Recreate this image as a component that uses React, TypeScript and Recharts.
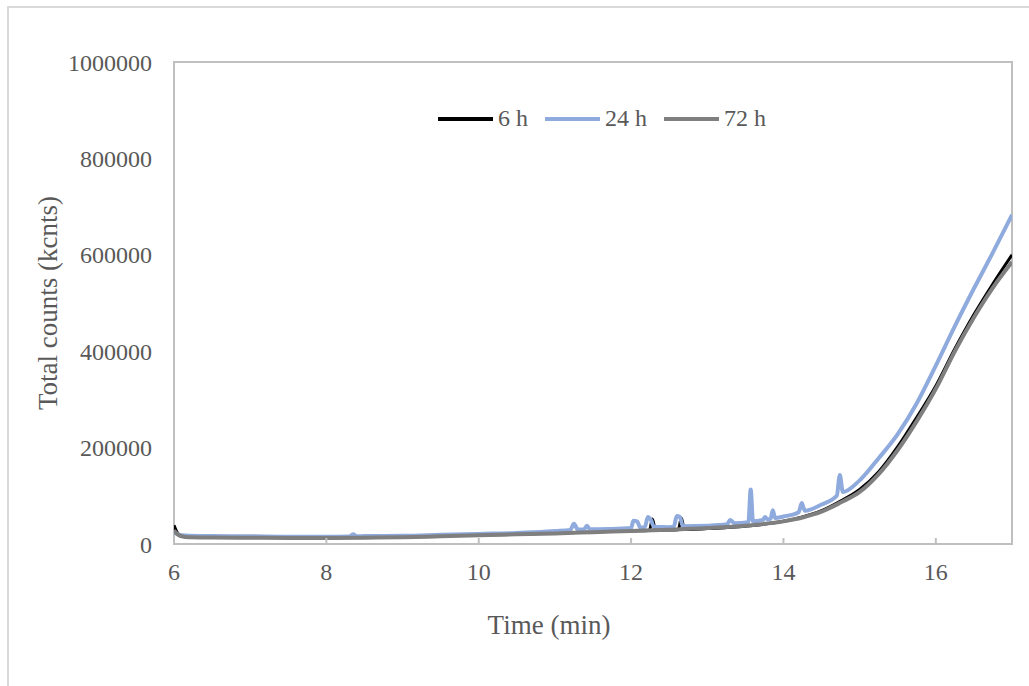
import React from 'react'
import { LineChart, Line, XAxis, YAxis, Legend, ReferenceArea, Label } from 'recharts'

// retention time (min) and total counts (kcnts) per sample
const seriesNames = ['6 h', '24 h', '72 h']

const t6h = [6.0, 6.05, 6.1, 6.2, 6.5, 7.0, 7.5, 8.0, 8.5, 9.0, 9.5, 10.0, 10.5, 11.0, 11.5, 12.0, 12.24, 12.28, 12.32, 12.5, 12.62, 12.66, 12.7, 13.0, 13.5, 14.0, 14.25, 14.5, 14.75, 15.0, 15.25, 15.5, 15.75, 16.0, 16.25, 16.5, 16.75, 17.0]
const v6h = [39000, 22000, 16000, 14500, 14000, 13500, 13500, 13000, 14000, 15000, 16500, 18500, 20000, 22500, 25000, 27000, 28000, 52000, 29000, 29000, 29500, 54000, 30000, 32000, 37000, 47000, 56000, 69000, 89000, 113000, 150000, 202000, 263000, 328000, 405000, 476000, 540000, 600000]

const t24h = [6.0, 6.05, 6.1, 6.2, 6.5, 7.0, 7.5, 8.0, 8.3, 8.35, 8.4, 8.5, 9.0, 9.5, 10.0, 10.5, 10.9, 11.0, 11.2, 11.25, 11.3, 11.38, 11.42, 11.46, 11.7, 12.0, 12.03, 12.08, 12.12, 12.18, 12.22, 12.26, 12.3, 12.5, 12.56, 12.6, 12.64, 12.68, 13.0, 13.26, 13.3, 13.36, 13.54, 13.57, 13.6, 13.73, 13.76, 13.79, 13.83, 13.86, 13.89, 14.0, 14.2, 14.24, 14.28, 14.5, 14.7, 14.74, 14.78, 15.0, 15.25, 15.5, 15.75, 16.0, 16.25, 16.5, 16.75, 17.0]
const v24h = [25000, 20000, 18000, 17000, 16500, 16000, 15000, 15000, 15500, 20000, 16000, 16500, 17000, 19000, 21000, 23000, 26000, 27000, 29000, 42000, 30000, 30000, 38000, 30500, 31000, 33000, 48000, 47000, 34000, 35000, 56000, 50000, 36000, 35000, 36000, 58000, 56000, 37000, 38000, 41000, 50000, 43000, 45000, 113000, 47000, 50000, 56000, 51000, 52000, 70000, 54000, 57000, 66000, 85000, 69000, 82000, 100000, 143000, 108000, 132000, 178000, 228000, 292000, 370000, 452000, 530000, 605000, 683000]

const t72h = [6.0, 6.05, 6.1, 6.2, 6.5, 7.0, 7.5, 8.0, 8.5, 9.0, 9.5, 10.0, 10.5, 11.0, 11.5, 12.0, 12.5, 13.0, 13.5, 14.0, 14.25, 14.5, 14.75, 15.0, 15.25, 15.5, 15.75, 16.0, 16.25, 16.5, 16.75, 17.0]
const v72h = [28000, 20000, 16000, 14000, 13500, 13000, 12500, 12500, 13000, 14000, 16000, 18000, 20000, 22000, 24500, 27000, 29500, 33000, 38000, 47000, 55000, 67000, 86000, 108000, 145000, 195000, 255000, 322000, 400000, 470000, 532000, 585000]

const xTicks = [6, 8, 10, 12, 14, 16]
const yTicks = [0, 200000, 400000, 600000, 800000, 1000000]

const zip = (ts: number[], vs: number[]) => ts.map((t, i) => ({ t, v: vs[i] }))

const FONT = '"Liberation Serif", "Times New Roman", serif'
const TEXT = '#595959'

function LegendContent({ payload }: any) {
  const items = [...(payload || [])].sort((a: any, b: any) => seriesNames.indexOf(a.value) - seriesNames.indexOf(b.value))
  return (
    <div style={{ display: 'flex', alignItems: 'center', fontFamily: FONT, fontSize: 24, color: TEXT }}>
      {items.map((p: any) => (
        <div key={p.value} style={{ display: 'flex', alignItems: 'center', marginRight: 17 }}>
          <div style={{ width: 55, height: 4, background: p.color, marginRight: 5 }} />
          <span>{p.value}</span>
        </div>
      ))}
    </div>
  )
}

export default function App() {
  return (
    <div style={{ position: 'absolute', left: 0, top: 0, width: 1029, height: 686, overflow: 'hidden', background: '#fff' }}>
      <div style={{ position: 'absolute', left: 7, top: 6, width: 1100, height: 800, border: '2px solid #d9d9d9' }} />
      <div style={{ position: 'absolute', left: 0, top: 0 }}>
        <LineChart width={1029} height={686} margin={{ top: 62, right: 17, left: 0, bottom: 82 }}>
          <XAxis
            type="number"
            dataKey="t"
            domain={[6, 17]}
            ticks={xTicks}
            allowDataOverflow
            height={60}
            axisLine={false}
            tickLine={{ stroke: '#bfbfbf', strokeWidth: 2 }}
            tickSize={-6}
            tickMargin={25}
            tick={{ fontSize: 24, fill: TEXT, fontFamily: FONT }}
          >
            <Label value="Time (min)" position="bottom" offset={11} dx={-44} style={{ fontSize: 27, fill: TEXT, fontFamily: FONT }} />
          </XAxis>
          <YAxis
            type="number"
            domain={[0, 1000000]}
            ticks={yTicks}
            width={174}
            axisLine={false}
            tickLine={false}
            tickMargin={16}
            tickFormatter={(v: number) => String(v)}
            tick={{ fontSize: 24, fill: TEXT, fontFamily: FONT }}
          >
            <Label value="Total counts (kcnts)" position="center" angle={-90} dx={-40} style={{ fontSize: 27, fill: TEXT, fontFamily: FONT }} />
          </YAxis>
          <ReferenceArea x1={6} x2={17} y1={0} y2={1000000} fill="none" stroke="#bfbfbf" strokeWidth={2} ifOverflow="visible" />
          <Legend
            layout="horizontal"
            verticalAlign="middle"
            align="center"
            content={<LegendContent />}
            wrapperStyle={{ top: 105, left: 438, width: 'auto', height: 'auto' }}
          />
          <Line data={zip(t6h, v6h)} dataKey="v" name="6 h" type="monotone" stroke="#000000" strokeWidth={3} dot={false} activeDot={false} isAnimationActive={false} />
          <Line data={zip(t24h, v24h)} dataKey="v" name="24 h" type="monotone" stroke="#8faadc" strokeWidth={4} dot={false} activeDot={false} isAnimationActive={false} />
          <Line data={zip(t72h, v72h)} dataKey="v" name="72 h" type="monotone" stroke="#7f7f7f" strokeWidth={4} dot={false} activeDot={false} isAnimationActive={false} />
        </LineChart>
      </div>
    </div>
  )
}
